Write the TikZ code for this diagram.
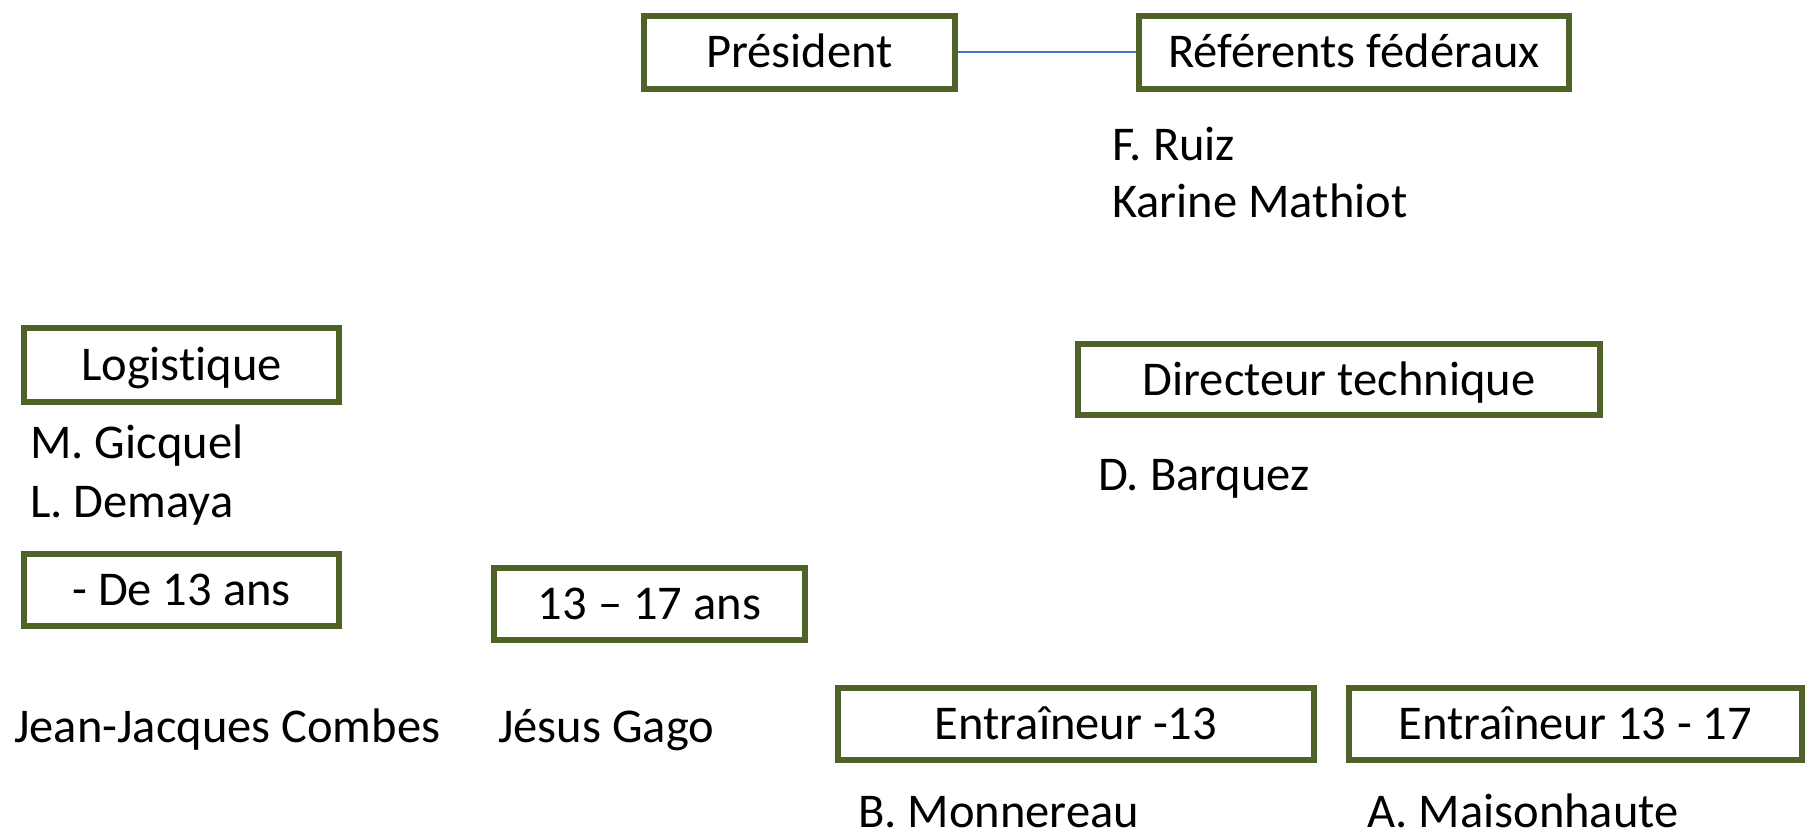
\documentclass[tikz,border=0pt]{standalone}
\usepackage{fontspec}
\setmainfont{Carlito}[Ligatures=NoCommon]
\definecolor{boxgreen}{HTML}{4F6228}
\definecolor{linkblue}{HTML}{4472C4}
\begin{document}
\begin{tikzpicture}[x=1pt,y=-1pt,
  orgbox/.style={draw=boxgreen,line width=6pt,fill=white,inner sep=0pt,
    text height=31pt,text depth=0pt,font=\fontsize{48.5}{58}\selectfont},
  person/.style={anchor=base west,inner sep=0pt,font=\fontsize{48.5}{58}\selectfont}]
\useasboundingbox (0,0) rectangle (1807,837);
\node[orgbox,minimum width=311pt,minimum height=73pt] (pres) at (799.5,52.5) {Président};
\node[orgbox,minimum width=430pt,minimum height=73pt] (ref) at (1354,52.5) {Référents fédéraux};
\draw[linkblue,line width=2pt] (pres.east) -- (ref.west);
\node[person] (ruiz) at (1112,161) {F. Ruiz};
\node[person] (mathiot) at (1112,218) {Karine Mathiot};
\node[orgbox,minimum width=315pt,minimum height=74pt] (log) at (181.5,365) {Logistique};
\node[person] (gicquel) at (30,458) {M. Gicquel};
\node[person] (demaya) at (30,517) {L. Demaya};
\node[orgbox,minimum width=315pt,minimum height=72pt] (de13) at (181.5,590) {- De 13 ans};
\node[orgbox,minimum width=311pt,minimum height=72pt] (a1317) at (649.5,604) {13 – 17 ans};
\node[person] (combes) at (14,742) {Jean-Jacques Combes};
\node[person] (gago) at (498,742) {Jésus Gago};
\node[orgbox,minimum width=522pt,minimum height=71pt] (dir) at (1339,379.5) {Directeur technique};
\node[person] (barquez) at (1098,490) {D. Barquez};
\node[orgbox,minimum width=476pt,minimum height=72pt] (e13) at (1076,724) {Entraîneur -13};
\node[orgbox,minimum width=453pt,minimum height=72pt] (e1317) at (1575.5,724) {Entraîneur 13 - 17};
\node[person] (monnereau) at (858,827) {B. Monnereau};
\node[person] (maison) at (1367,827) {A. Maisonhaute};
\end{tikzpicture}
\end{document}
